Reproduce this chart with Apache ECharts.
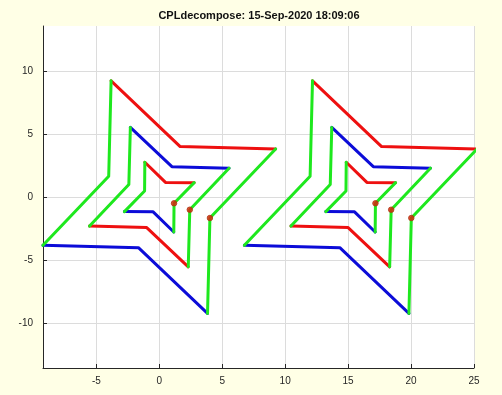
<!DOCTYPE html>
<html>
<head>
<meta charset="utf-8">
<script src="https://cdn.jsdelivr.net/npm/echarts@6/dist/echarts.min.js"></script>
<style>
html,body{margin:0;padding:0;background:#ffffe6;}
#chart{width:502px;height:395px;}
</style>
</head>
<body>
<div id="chart"></div>
<script>
const titleText = 'CPLdecompose: 15-Sep-2020 18:09:06';
const xTicks = [-5, 0, 5, 10, 15, 20, 25];
const yTicks = [-10, -5, 0, 5, 10];

// Star vertices (P1..P8), P1 is the start point (red dot)
const leftOuter  = [[4.02,-1.66],[9.24,3.83],[1.66,4.02],[-3.83,9.24],[-4.02,1.66],[-9.24,-3.83],[-1.66,-4.02],[3.83,-9.24]];
const leftMiddle = [[2.42,-1.00],[5.54,2.30],[1.00,2.42],[-2.30,5.54],[-2.42,1.00],[-5.54,-2.30],[-1.00,-2.42],[2.30,-5.54]];
const leftInner  = [[1.17,-0.49],[2.77,1.15],[0.49,1.17],[-1.15,2.77],[-1.17,0.49],[-2.77,-1.15],[-0.49,-1.17],[1.15,-2.77]];
const rightOuter  = [[20.02,-1.66],[25.24,3.83],[17.66,4.02],[12.17,9.24],[11.98,1.66],[6.76,-3.83],[14.34,-4.02],[19.83,-9.24]];
const rightMiddle = [[18.42,-1.00],[21.54,2.30],[17.00,2.42],[13.70,5.54],[13.58,1.00],[10.46,-2.30],[15.00,-2.42],[18.30,-5.54]];
const rightInner  = [[17.17,-0.49],[18.77,1.15],[16.49,1.17],[14.85,2.77],[14.83,0.49],[13.23,-1.15],[15.51,-1.17],[17.15,-2.77]];

// colours of the four runs: [P8-P1-P2], [P2-P3-P4], [P4-P5-P6], [P6-P7-P8]
const colorsA = ['g', 'r', 'g', 'b'];
const colorsB = ['g', 'b', 'g', 'r'];

const stars = [
  {pts: leftOuter, cols: colorsA},
  {pts: leftMiddle, cols: colorsB},
  {pts: leftInner, cols: colorsA},
  {pts: rightOuter, cols: colorsA},
  {pts: rightMiddle, cols: colorsB},
  {pts: rightInner, cols: colorsA}
];

const palette = {r: '#ee1010', b: '#0c0cd8', g: '#1ee81e'};
const runIdx = [[7,0,1],[1,2,3],[3,4,5],[5,6,7]];

const series = [];
['r','b','g'].forEach(function (c) {
  stars.forEach(function (s) {
    runIdx.forEach(function (idx, k) {
      if (s.cols[k] !== c) return;
      series.push({
        type: 'line',
        data: idx.map(function (i) { return s.pts[i]; }),
        showSymbol: false,
        clip: false,
        silent: true,
        animation: false,
        lineStyle: {color: palette[c], width: 3, join: 'round', cap: 'round'},
        z: c === 'g' ? 4 : 3
      });
    });
  });
});
series.push({
  type: 'scatter',
  data: stars.map(function (s) { return s.pts[0]; }),
  symbol: 'circle',
  symbolSize: 5.5,
  animation: false,
  itemStyle: {color: '#e01a0a', borderColor: '#a83a10', borderWidth: 1},
  z: 6
});

const axisColor = '#262626';
const labelFont = {fontFamily: 'Liberation Sans', fontSize: 10, color: '#262626'};

const chart = echarts.init(document.getElementById('chart'), null, {renderer: 'canvas'});
chart.setOption({
  backgroundColor: '#ffffe6',
  animation: false,
  title: {
    text: titleText,
    left: 259,
    top: 10,
    textAlign: 'center',
    padding: 0,
    textStyle: {fontFamily: 'Liberation Sans', fontSize: 11, fontWeight: 'bold', color: '#111'}
  },
  grid: {left: 43, right: 28, top: 26, bottom: 27, show: true, backgroundColor: '#ffffff', borderWidth: 0},
  xAxis: {
    type: 'value',
    min: -9.24,
    max: 25,
    axisLine: {show: true, onZero: false, lineStyle: {color: axisColor, width: 1}},
    axisTick: {show: true, inside: true, length: 4, customValues: xTicks, lineStyle: {color: axisColor}},
    axisLabel: Object.assign({customValues: xTicks, margin: 8}, labelFont),
    splitLine: {show: true, lineStyle: {color: '#dcdcdc', width: 1}}
  },
  yAxis: {
    type: 'value',
    min: -13.58,
    max: 13.6,
    axisLine: {show: true, onZero: false, lineStyle: {color: axisColor, width: 1}},
    axisTick: {show: true, inside: true, length: 4, customValues: yTicks, lineStyle: {color: axisColor}},
    axisLabel: Object.assign({customValues: yTicks, margin: 10}, labelFont),
    splitLine: {show: true, lineStyle: {color: '#dcdcdc', width: 1}}
  },
  series: series
});
</script>
</body>
</html>
